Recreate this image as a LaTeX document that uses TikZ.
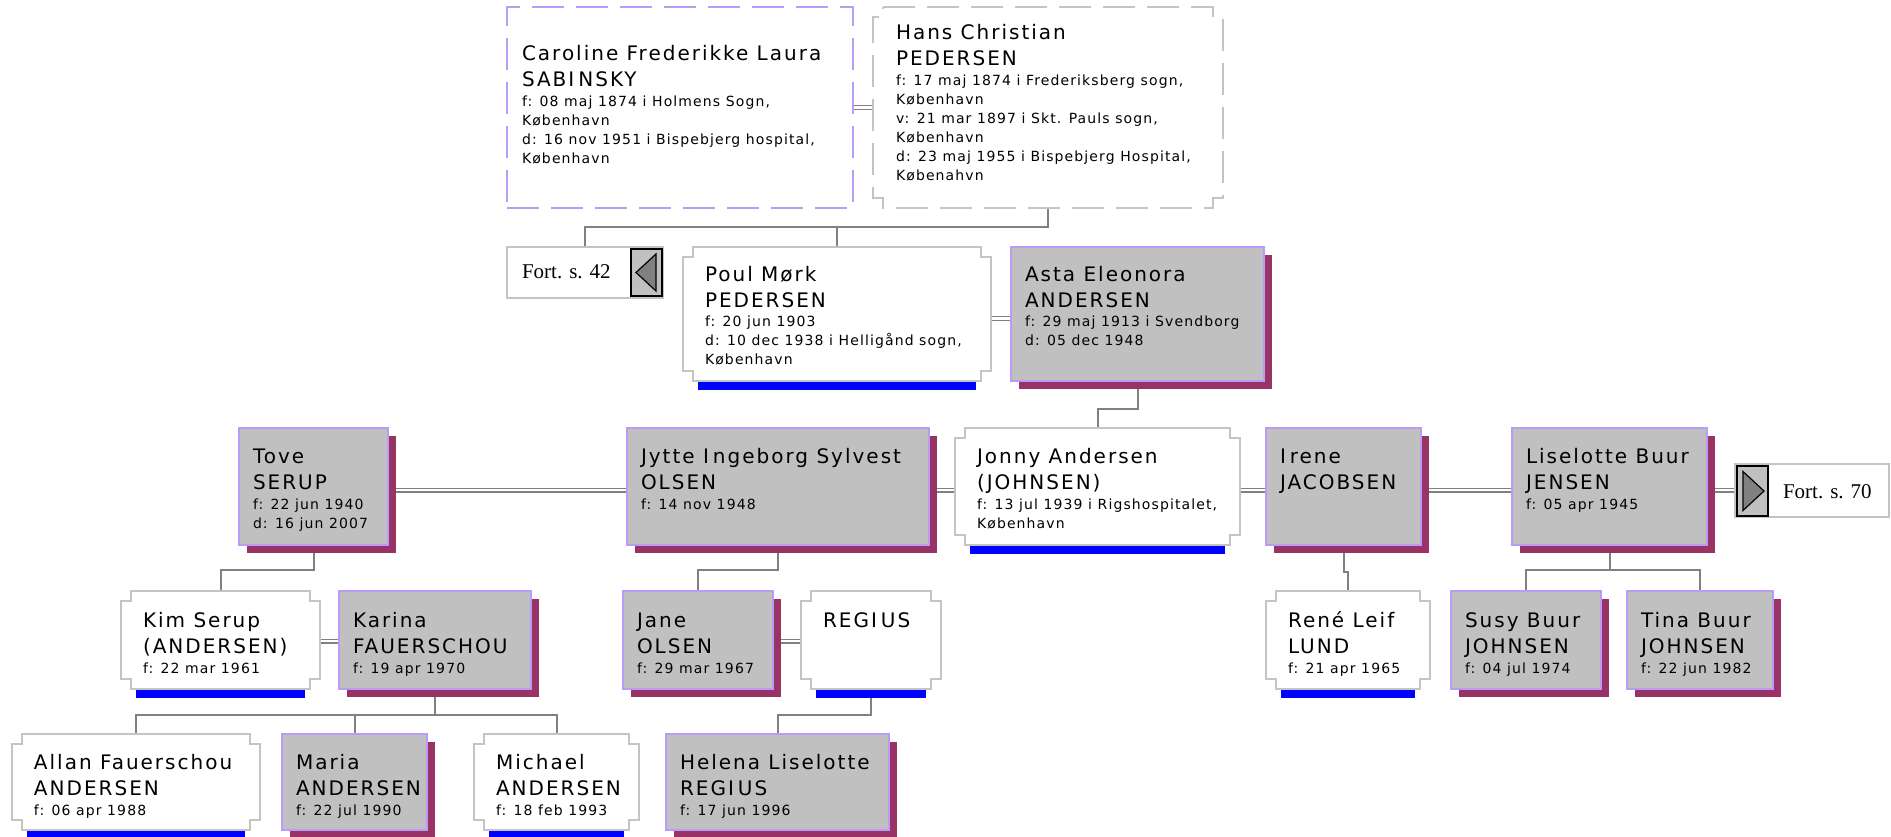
\documentclass[tikz,border=0pt]{standalone}
\usepackage{fontspec}
\setmainfont{DejaVu Sans}
\newfontfamily\nmfam[LetterSpace=10]{DejaVu Sans}
\newfontfamily\dtfam[LetterSpace=8]{DejaVu Sans}
\newfontfamily\serfam{Liberation Serif}
\usetikzlibrary{shadows}
\definecolor{femfill}{HTML}{C0C0C0}
\definecolor{femline}{HTML}{B89CF8}
\definecolor{shadowc}{HTML}{993366}
\definecolor{maleline}{HTML}{C4C4C4}
\definecolor{connc}{HTML}{808080}
\definecolor{barc}{HTML}{0000FF}
\definecolor{trifill}{HTML}{808080}
\pgfdeclarelayer{back}\pgfdeclarelayer{bg}\pgfsetlayers{back,bg,main}

\newcommand\nmf{\nmfam\fontsize{20}{26}\selectfont}
\newcommand\dtf{\dtfam\fontsize{14}{19}\selectfont}
\newcommand\Ik{I\kern4pt}
\newcommand\pinfo[3]{\vtop{\lineskiplimit=-100pt\baselineskip=26pt\hbox{\nmf #1}\hbox{\nmf #2}\baselineskip=20pt #3}}
\newcommand\dl[1]{\hbox{\dtf #1}\baselineskip=19pt}

\tikzset{
 every node/.style={inner sep=0pt,outer sep=0pt},
 fem/.style={fill=femfill,draw=femline,line width=1.5pt,drop shadow={shadow xshift=8pt,shadow yshift=-8pt,fill=shadowc,opacity=1}},
 male/.style={draw=none},
 malebd/.style={draw=maleline,fill=white,line width=2pt},
 hansbd/.style={draw=maleline,fill=white,line width=1.5pt,dash pattern=on 32pt off 12pt},
 carbd/.style={draw=femline,fill=white,line width=1.5pt,dash pattern=on 32pt off 12pt},
 conn/.style={draw=connc,line width=2pt},
 dbl/.style={draw=connc,line width=1.2pt,double=white,double distance=2.6pt},
 fortbx/.style={draw=maleline,fill=white,line width=2pt},
 btn/.style={draw=black,fill=femfill,line width=1.2pt},
 tri/.style={draw=black,fill=trifill,line width=1.2pt,line join=miter},
 txt/.style={anchor=base west,inner sep=0pt,text=black},
 forttxt/.style={anchor=base west,font=\serfam\fontsize{21}{25}\selectfont}
}

\newcommand\bx[6]{\node[#1,anchor=north west,minimum width=#5pt-#3pt,minimum height=#6pt-#4pt] (#2) at (#3,#4) {};}
\newcommand\notch[2]{\draw[#2] ([xshift=10pt]#1.north west) -- ([xshift=-10pt]#1.north east) -- ++(0pt,-10pt) -- ++(10pt,0pt) -- ([yshift=10pt]#1.south east) -- ++(-10pt,0pt) -- ++(0pt,-10pt) -- ([xshift=10pt]#1.south west) -- ++(0pt,10pt) -- ++(-10pt,0pt) -- ([yshift=-10pt]#1.north west) -- ++(10pt,0pt) -- cycle;}
\newcommand\malebox[5]{\bx{male}{#1}{#2}{#3}{#4}{#5}\notch{#1}{malebd}\fill[barc] ([xshift=15pt,yshift=-1pt]#1.south west) rectangle ([xshift=-15pt,yshift=-9pt]#1.south east);}
\newcommand\ptx[4]{\node[txt] (#1t) at ([xshift=#2pt,yshift=-#3pt]#1.north west) {#4};}

\begin{document}
\begin{tikzpicture}[x=1pt,y=-1pt]
\useasboundingbox (0,0) rectangle (1891,837);
\begin{pgfonlayer}{back}
\fill[white] (0,0) rectangle (1891,837);
\end{pgfonlayer}

% generation 1
\bx{carbd}{car}{507}{7}{853}{208}
\bx{male}{hans}{873}{7}{1223}{208}\notch{hans}{hansbd}
\ptx{car}{15}{54}{\pinfo{Caroline Frederikke Laura}{SAB\Ik NSKY}{\dl{f: 08 maj 1874 i Holmens Sogn,}\dl{København}\dl{d: 16 nov 1951 i Bispebjerg hospital,}\dl{København}}}
\ptx{hans}{23}{33}{\pinfo{Hans Christian}{PEDERSEN}{\dl{f: 17 maj 1874 i Frederiksberg sogn,}\dl{København}\dl{v: 21 mar 1897 i Skt. Pauls sogn,}\dl{København}\dl{d: 23 maj 1955 i Bispebjerg Hospital,}\dl{Købenahvn}}}

% generation 2
\bx{fortbx}{fortA}{507}{247}{663}{298}
\bx{btn}{btnA}{631}{249}{662}{296}
\draw[tri] ([xshift=5pt]btnA.west) -- ([xshift=-6pt,yshift=18.5pt]btnA.east) -- ([xshift=-6pt,yshift=-18.5pt]btnA.east) -- cycle;
\node[forttxt] (fortAt) at ([xshift=15pt,yshift=-32pt]fortA.north west) {Fort. s. 42};
\malebox{poul}{683}{247}{991}{381}
\bx{fem}{asta}{1011}{247}{1264}{381}
\ptx{poul}{22}{34}{\pinfo{Poul Mørk}{PEDERSEN}{\dl{f: 20 jun 1903}\dl{d: 10 dec 1938 i Helligånd sogn,}\dl{København}}}
\ptx{asta}{14}{34}{\pinfo{Asta Eleonora}{ANDERSEN}{\dl{f: 29 maj 1913 i Svendborg}\dl{d: 05 dec 1948}}}

% generation 3
\bx{fem}{tove}{239}{428}{388}{545}
\bx{fem}{jytte}{627}{428}{929}{545}
\malebox{jonny}{955}{428}{1240}{545}
\bx{fem}{irene}{1266}{428}{1421}{545}
\bx{fem}{lise}{1512}{428}{1707}{545}
\bx{fortbx}{fortB}{1735}{464}{1889}{517}
\bx{btn}{btnB}{1737}{466}{1768}{516}
\draw[tri] ([xshift=-4pt]btnB.east) -- ([xshift=6pt,yshift=19.5pt]btnB.west) -- ([xshift=6pt,yshift=-19.5pt]btnB.west) -- cycle;
\node[forttxt] (fortBt) at ([xshift=48pt,yshift=-34pt]fortB.north west) {Fort. s. 70};
\ptx{tove}{14}{35}{\pinfo{Tove}{SERUP}{\dl{f: 22 jun 1940}\dl{d: 16 jun 2007}}}
\ptx{jytte}{14}{35}{\pinfo{Jytte \Ik ngeborg Sylvest}{OLSEN}{\dl{f: 14 nov 1948}}}
\ptx{jonny}{22}{35}{\pinfo{Jonny Andersen}{(JOHNSEN)}{\dl{f: 13 jul 1939 i Rigshospitalet,}\dl{København}}}
\ptx{irene}{14}{35}{\pinfo{\Ik rene}{JACOBSEN}{}}
\ptx{lise}{14}{35}{\pinfo{Liselotte Buur}{JENSEN}{\dl{f: 05 apr 1945}}}

% generation 4
\malebox{kim}{121}{591}{320}{689}
\bx{fem}{karina}{339}{591}{531}{689}
\bx{fem}{jane}{623}{591}{773}{689}
\malebox{regius}{801}{591}{941}{689}
\malebox{rene}{1266}{591}{1430}{689}
\bx{fem}{susy}{1451}{591}{1601}{689}
\bx{fem}{tina}{1627}{591}{1773}{689}
\ptx{kim}{22}{36}{\pinfo{Kim Serup}{(ANDERSEN)}{\dl{f: 22 mar 1961}}}
\ptx{karina}{14}{36}{\pinfo{Karina}{FAUERSCHOU}{\dl{f: 19 apr 1970}}}
\ptx{jane}{14}{36}{\pinfo{Jane}{OLSEN}{\dl{f: 29 mar 1967}}}
\ptx{regius}{22}{36}{\pinfo{REG\Ik US}{}{}}
\ptx{rene}{22}{36}{\pinfo{René Leif}{LUND}{\dl{f: 21 apr 1965}}}
\ptx{susy}{14}{36}{\pinfo{Susy Buur}{JOHNSEN}{\dl{f: 04 jul 1974}}}
\ptx{tina}{14}{36}{\pinfo{Tina Buur}{JOHNSEN}{\dl{f: 22 jun 1982}}}

% generation 5
\malebox{allan}{12}{734}{260}{830}
\bx{fem}{maria}{282}{734}{427}{830}
\malebox{michael}{474}{734}{639}{830}
\bx{fem}{helena}{666}{734}{889}{830}
\ptx{allan}{22}{35}{\pinfo{Allan Fauerschou}{ANDERSEN}{\dl{f: 06 apr 1988}}}
\ptx{maria}{14}{35}{\pinfo{Maria}{ANDERSEN}{\dl{f: 22 jul 1990}}}
\ptx{michael}{22}{35}{\pinfo{Michael}{ANDERSEN}{\dl{f: 18 feb 1993}}}
\ptx{helena}{14}{35}{\pinfo{Helena Liselotte}{REG\Ik US}{\dl{f: 17 jun 1996}}}

% connectors
\begin{pgfonlayer}{bg}
\draw[dbl] (car.east) -- (hans.west);
\draw[dbl] ([yshift=-4.5pt]poul.east) -- ([yshift=-4.5pt]asta.west);
\draw[dbl] ([yshift=-3.5pt]tove.east) -- ([yshift=-3.5pt]jytte.west);
\draw[dbl] ([yshift=-3.5pt]jytte.east) -- ([yshift=-3.5pt]jonny.west);
\draw[dbl] ([yshift=-3.5pt]jonny.east) -- ([yshift=-3.5pt]irene.west);
\draw[dbl] ([yshift=-3.5pt]irene.east) -- ([yshift=-3.5pt]lise.west);
\draw[dbl] ([yshift=-3.5pt]lise.east) -- ([yshift=-3.5pt]lise.east -| fortB.west);
\draw[dbl] ([yshift=-1pt]kim.east) -- ([yshift=-1pt]karina.west);
\draw[dbl] ([yshift=-1pt]jane.east) -- ([yshift=-1pt]regius.west);

\draw[conn] (hans.south) -- ++(0pt,-19pt) -| (fortA.north);
\draw[conn] (hans.south) -- ++(0pt,-19pt) -| (poul.north);
\draw[conn] (asta.south) -- ++(0pt,-28pt) -| (jonny.north);
\draw[conn] (tove.south) -- ++(0pt,-25pt) -| (kim.north);
\draw[conn] (jytte.south) -- ++(0pt,-25pt) -| (jane.north);
\draw[conn] (irene.south) -- ++(0pt,-27pt) -| (rene.north);
\draw[conn] (lise.south) -- ++(0pt,-25pt) -| (susy.north);
\draw[conn] (lise.south) -- ++(0pt,-25pt) -| (tina.north);
\draw[conn] (karina.south) -- ++(0pt,-26pt) -| (allan.north);
\draw[conn] (karina.south) -- ++(0pt,-26pt) -| (maria.north);
\draw[conn] (karina.south) -- ++(0pt,-26pt) -| (michael.north);
\draw[conn] (regius.south) -- ++(0pt,-26pt) -| (helena.north);
\end{pgfonlayer}
\end{tikzpicture}
\end{document}
